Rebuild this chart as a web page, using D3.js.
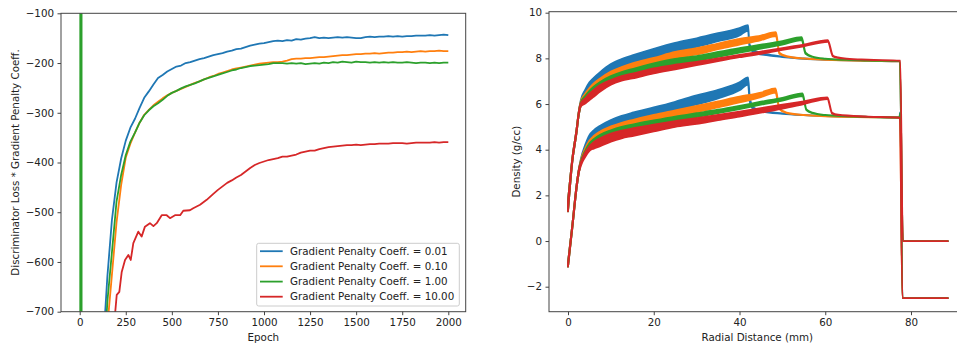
<!DOCTYPE html>
<html><head><meta charset="utf-8">
<script src="https://cdn.jsdelivr.net/npm/d3@7"></script>
<style>
body{margin:0;background:#fff;}
text{font-family:"DejaVu Sans",sans-serif;fill:#222;}
</style></head>
<body>
<svg id="chart" width="957" height="345"></svg>
<script>
// ---------------- LEFT CHART DATA ----------------
const epochs = [0,25,50,75,100,125,150,175,200,225,250,275,300,325,350,375,400,425,450,475,
500,525,550,575,600,625,650,675,700,725,750,775,800,825,850,875,900,925,950,975,
1000,1025,1050,1075,1100,1125,1150,1175,1200,1225,1250,1275,1300,1325,1350,1375,1400,1425,1450,1475,
1500,1525,1550,1575,1600,1625,1650,1675,1700,1725,1750,1775,1800,1825,1850,1875,1900,1925,1950,1975,2000];
const lossCoeff001 = [-3000,-2400,-1800,-1350,-1000,-780,-630,-515,-440,-392,
-356,-330,-312,-290,-270,-257,-243,-230,-224,-217,
-212,-207,-205,-200,-198,-195,-192,-190,-187,-184,
-182,-180,-177,-175,-172,-171,-168,-165,-163,-161,
-160,-158,-156,-155,-156,-154,-155,-152,-153,-151,
-150,-148,-150,-149,-150,-149,-148,-149,-148,-149,
-150,-150,-148,-147,-148,-147,-147,-146,-147,-146,
-147,-146,-146,-145,-145,-145,-144,-145,-144,-143,-144];
const lossCoeff010 = [-3500,-2800,-2100,-1600,-1200,-900,-730,-625,-520,-445,
-390,-362,-340,-320,-304,-294,-285,-278,-271,-265,
-260,-256,-252,-248,-244,-240,-237,-233,-229,-226,
-222,-219,-216,-213,-211,-209,-207,-205,-203,-201,
-200,-199,-198,-198,-197,-195,-192,-191,-191,-190,
-190,-189,-188,-188,-187,-186,-185,-184,-184,-183,
-182,-182,-181,-181,-180,-181,-180,-179,-179,-178,
-178,-177,-178,-177,-176,-177,-176,-176,-175,-176,-176];
// coeff 1.00: early spike points, then values on epochs[1..]
const spikeEpochs100 = [0,4,9,14];
const spikeValues100 = [-20000,6000,6000,-20000];
const lossCoeff100 = [-9000,-4000,-2000,-1200,-850,-680,-580,-478,-425,
-385,-358,-340,-320,-305,-295,-287,-281,-274,-266,
-260,-256,-251,-247,-244,-241,-237,-233,-230,-227,
-224,-221,-218,-215,-213,-210,-208,-206,-205,-204,
-203,-202,-200,-200,-200,-201,-200,-201,-200,-202,
-201,-200,-201,-199,-200,-198,-199,-197,-198,-199,
-197,-198,-198,-199,-198,-199,-198,-199,-198,-199,
-199,-198,-199,-200,-199,-199,-200,-199,-200,-199,-199];
// coeff 10.00 has its own (denser early) epochs
const epochs1000 = [0,50,100,150,175,193,201,215,228,246,264,277,291,318,336,354,381,400,418,445,472,490,517,545,562,598,616,653,689,
725,750,775,800,825,850,875,900,925,950,975,
1000,1025,1050,1075,1100,1125,1150,1175,1200,1225,1250,1275,1300,1325,1350,1375,1400,1425,1450,1475,
1500,1525,1550,1575,1600,1625,1650,1675,1700,1725,1750,1775,1800,1825,1850,1875,1900,1925,1950,1975,2000];
const lossCoeff1000 = [-5000,-3200,-1900,-1100,-850,-700,-666,-660,-620,-596,-586,-596,-562,-539,-549,-529,-522,-528,-522,-506,-506,-512,-506,-506,-497,-496,-492,-485,-475,
-463,-455,-448,-441,-436,-430,-425,-418,-411,-405,-401,
-398,-395,-393,-391,-388,-388,-386,-384,-380,-378,
-376,-376,-373,-371,-369,-368,-367,-366,-365,-365,
-364,-365,-364,-363,-363,-362,-362,-362,-361,-361,
-361,-362,-361,-360,-360,-360,-360,-359,-360,-359,-359];
const legendLabels = ["Gradient Penalty Coeff. = 0.01","Gradient Penalty Coeff. = 0.10","Gradient Penalty Coeff. = 1.00","Gradient Penalty Coeff. = 10.00"];
const colors = ["#1f77b4","#ff7f0e","#2ca02c","#d62728"];
const leftXTicks = [0,250,500,750,1000,1250,1500,1750,2000];
const leftYTicks = [-700,-600,-500,-400,-300,-200,-100];

// ---------------- RIGHT CHART DATA: [radial mm, low, high] ----------------
const stemUpper = [[0,1.3,1.75],[1,3.45,3.6],[2,4.75,4.9],[2.5,5.5,5.65]];
const stemLower = [[0,-1.12,-0.95],[1,0.55,0.7],[2,2.3,2.45],[2.5,2.95,3.1]];
const upper001 = [[3,5.95,6.18],[4,6.3,6.62],[5,6.55,6.95],[6,6.75,7.15],[7.5,6.98,7.4],[10,7.3,7.75],[12.5,7.55,7.97],[15,7.72,8.13],[20,8.02,8.42],[25,8.3,8.68],[30,8.5,8.88],[35,8.75,9.1],[40,9.0,9.33],[42,9.22,9.46],
[42.3,8.55,8.65],[42.8,8.35,8.45],[44,8.22,8.3],[47,8.12,8.16],[50,8.06,8.08],[55,7.98,8.0],[60,7.94,7.95],[65,7.91,7.92],[70,7.89,7.9],[77.4,7.87,7.88],[78.1,0,0],[88.6,0,0]];
const upper010 = [[3,5.95,6.12],[4,6.25,6.45],[5,6.48,6.7],[6,6.65,6.9],[7.5,6.87,7.12],[10,7.15,7.42],[12.5,7.35,7.62],[15,7.5,7.78],[20,7.75,8.02],[25,8.0,8.28],[30,8.17,8.45],[35,8.4,8.65],[40,8.6,8.85],[45,8.8,9.0],[48.5,8.98,9.15],
[49.3,8.2,8.25],[51,8.08,8.1],[55,7.99,8.0],[60,7.94,7.95],[70,7.89,7.9],[77.4,7.87,7.88],[78.1,0,0],[88.6,0,0]];
const upper100 = [[3,5.95,6.08],[4,6.2,6.35],[5,6.42,6.58],[6,6.6,6.76],[7.5,6.8,6.97],[10,7.05,7.22],[12.5,7.22,7.4],[15,7.35,7.53],[20,7.58,7.78],[25,7.75,7.98],[30,7.88,8.1],[35,8.07,8.28],[40,8.25,8.45],[45,8.43,8.6],[50,8.6,8.75],[54.5,8.8,8.93],
[55.4,8.2,8.25],[57,8.06,8.08],[60,7.98,7.99],[65,7.93,7.94],[70,7.9,7.9],[77.4,7.88,7.88],[78.1,0,0],[88.6,0,0]];
const upper1000 = [[3,5.9,6.04],[4,6.02,6.25],[5,6.18,6.45],[6,6.32,6.62],[7.5,6.55,6.83],[10,6.85,7.05],[12.5,7.02,7.22],[15,7.12,7.33],[20,7.34,7.56],[25,7.52,7.72],[30,7.7,7.85],[35,7.88,8.0],[40,8.05,8.15],[45,8.2,8.3],[50,8.37,8.45],[55,8.53,8.6],[60.6,8.72,8.8],
[61.8,8.08,8.12],[63,8.02,8.04],[65,7.98,7.99],[70,7.94,7.94],[77.5,7.89,7.9],[78.1,0,0],[88.6,0,0]];
const lower001 = [[3,3.4,3.6],[4,3.9,4.2],[5,4.25,4.64],[6,4.45,4.85],[7.5,4.68,5.05],[10,4.95,5.3],[12.5,5.1,5.48],[15,5.25,5.62],[20,5.5,5.85],[25,5.72,6.1],[30,5.98,6.38],[35,6.25,6.62],[40,6.6,6.95],[42,6.85,7.17],
[42.4,6.1,6.3],[43.2,5.78,5.85],[45,5.68,5.72],[50,5.57,5.59],[55,5.51,5.52],[60,5.47,5.48],[70,5.43,5.44],[77.3,5.41,5.42],[77.5,5.62,5.65],[78.0,-2.5,-2.5],[88.6,-2.5,-2.5]];
const lower010 = [[3,3.4,3.55],[4,3.85,4.05],[5,4.2,4.4],[6,4.38,4.6],[7.5,4.58,4.8],[10,4.8,5.02],[12.5,4.95,5.18],[15,5.07,5.3],[20,5.27,5.52],[25,5.45,5.72],[30,5.65,5.92],[35,5.85,6.12],[40,6.07,6.32],[45,6.3,6.5],[48.4,6.5,6.69],
[49.3,5.78,5.82],[51,5.6,5.62],[55,5.51,5.52],[60,5.46,5.47],[70,5.42,5.43],[77.4,5.4,5.41],[78.0,-2.5,-2.5],[88.6,-2.5,-2.5]];
const lower100 = [[3,3.4,3.5],[4,3.8,3.95],[5,4.1,4.28],[6,4.3,4.46],[7.5,4.48,4.65],[10,4.68,4.85],[12.5,4.82,5.0],[15,4.93,5.1],[20,5.1,5.28],[25,5.27,5.45],[30,5.43,5.6],[35,5.6,5.75],[40,5.78,5.92],[45,5.97,6.1],[50,6.15,6.27],[54.7,6.35,6.47],
[55.6,5.73,5.77],[57,5.6,5.62],[60,5.51,5.52],[65,5.46,5.47],[70,5.43,5.44],[77.3,5.41,5.41],[77.5,5.58,5.6],[78.0,-2.5,-2.5],[88.6,-2.5,-2.5]];
const lower1000 = [[3,3.3,3.45],[4,3.68,3.88],[5,3.95,4.15],[6,4.05,4.33],[7.5,4.15,4.5],[10,4.35,4.7],[12.5,4.5,4.83],[15,4.6,4.93],[20,4.8,5.1],[25,5.0,5.25],[30,5.13,5.38],[35,5.3,5.52],[40,5.45,5.67],[45,5.62,5.82],[50,5.8,5.97],[55,6.0,6.12],[60.5,6.22,6.29],
[61.6,5.58,5.62],[63,5.51,5.53],[70,5.44,5.45],[77.4,5.39,5.4],[78.0,-2.5,-2.5],[88.6,-2.5,-2.5]];
const rightXTicks = [0,20,40,60,80];
const rightYTicks = [-2,0,2,4,6,8,10];

// ---------------- DRAW ----------------
const svg = d3.select("#chart");
const FS = "10.3px";
const spine = "#444";

// LEFT
const L = {x0:61, x1:465.7, y0:13.3, y1:311.7};
const xL = d3.scaleLinear().domain([0,2000]).range([79.7,448.3]);
const yL = d3.scaleLinear().domain([-700,-100]).range([L.y1,L.y0]);
const defs = svg.append("defs");
defs.append("clipPath").attr("id","clipL").append("rect")
  .attr("x",L.x0).attr("y",L.y0).attr("width",L.x1-L.x0).attr("height",L.y1-L.y0);

const gL = svg.append("g");
const lineL = d3.line().x(d=>xL(d[0])).y(d=>yL(d[1]));
const seriesL = [
  epochs.map((e,i)=>[e,lossCoeff001[i]]),
  epochs.map((e,i)=>[e,lossCoeff010[i]]),
  spikeEpochs100.map((e,i)=>[e,spikeValues100[i]]).concat(epochs.slice(1).map((e,i)=>[e,lossCoeff100[i]])),
  epochs1000.map((e,i)=>[e,lossCoeff1000[i]])
];
gL.append("g").attr("clip-path","url(#clipL)").selectAll("path").data(seriesL).join("path")
  .attr("d",lineL).attr("fill","none").attr("stroke",(d,i)=>colors[i]).attr("stroke-width",1.8)
  .attr("stroke-linejoin","round");

function styleAxis(g){
  g.select(".domain").remove();
  g.selectAll("line").attr("stroke",spine);
  g.selectAll("text").style("font-size",FS).attr("fill","#222");
}
const axL = gL.append("g");
axL.append("g").attr("transform",`translate(0,${L.y1})`)
  .call(d3.axisBottom(xL).tickValues(leftXTicks).tickSize(3.5).tickPadding(3.5).tickFormat(d3.format("d")))
  .call(styleAxis);
axL.append("g").attr("transform",`translate(${L.x0},0)`)
  .call(d3.axisLeft(yL).tickValues(leftYTicks).tickSize(3.5).tickPadding(3.5))
  .call(styleAxis);
gL.append("rect").attr("x",L.x0).attr("y",L.y0).attr("width",L.x1-L.x0).attr("height",L.y1-L.y0)
  .attr("fill","none").attr("stroke",spine).attr("stroke-width",1);
gL.append("text").attr("x",(L.x0+L.x1)/2).attr("y",341).attr("text-anchor","middle").style("font-size",FS).text("Epoch");
gL.append("text").attr("transform",`translate(18.7,${(L.y0+L.y1)/2}) rotate(-90)`).attr("text-anchor","middle")
  .style("font-size",FS).text("Discriminator Loss * Gradient Penalty Coeff.");

// legend
const lg = gL.append("g");
lg.append("rect").attr("x",256.7).attr("y",243.3).attr("width",202.6).attr("height",62.7).attr("rx",2)
  .attr("fill","#fff").attr("fill-opacity",0.8).attr("stroke","#ccc").attr("stroke-width",1);
const legY = [251.2,266.3,281.6,296.7];
legendLabels.forEach((lab,i)=>{
  lg.append("line").attr("x1",260).attr("x2",282.7).attr("y1",legY[i]).attr("y2",legY[i])
    .attr("stroke",colors[i]).attr("stroke-width",1.8);
  lg.append("text").attr("x",290).attr("y",legY[i]).attr("dy","0.35em").style("font-size",FS).text(lab);
});

// RIGHT
const R = {x0:549, x1:966.7, y0:11.7, y1:311.7};
const xR = d3.scaleLinear().domain([0,80]).range([568,911]);
const yR = d3.scaleLinear().domain([-2,10]).range([286.7,12.7]);
defs.append("clipPath").attr("id","clipR").append("rect")
  .attr("x",R.x0).attr("y",R.y0).attr("width",R.x1-R.x0).attr("height",R.y1-R.y0);
const gR = svg.append("g");
const areaR = d3.area().x(d=>xR(d[0])).y0(d=>yR(d[1])).y1(d=>yR(d[2])).curve(d3.curveMonotoneX);
const seriesR = [
  [stemUpper.concat(upper001), stemLower.concat(lower001)],
  [stemUpper.concat(upper010), stemLower.concat(lower010)],
  [stemUpper.concat(upper100), stemLower.concat(lower100)],
  [stemUpper.concat(upper1000), stemLower.concat(lower1000)]
];
const plotR = gR.append("g").attr("clip-path","url(#clipR)");
seriesR.forEach((pair,i)=>{
  plotR.selectAll(null).data(pair).join("path")
    .attr("d",areaR).attr("fill",colors[i]).attr("stroke",colors[i]).attr("stroke-width",1.8)
    .attr("stroke-linejoin","round");
});
const axR = gR.append("g");
axR.append("g").attr("transform",`translate(0,${R.y1})`)
  .call(d3.axisBottom(xR).tickValues(rightXTicks).tickSize(3.5).tickPadding(3.5))
  .call(styleAxis);
axR.append("g").attr("transform",`translate(${R.x0},0)`)
  .call(d3.axisLeft(yR).tickValues(rightYTicks).tickSize(3.5).tickPadding(3.5))
  .call(styleAxis);
gR.append("rect").attr("x",R.x0).attr("y",R.y0).attr("width",R.x1-R.x0).attr("height",R.y1-R.y0)
  .attr("fill","none").attr("stroke",spine).attr("stroke-width",1);
gR.append("text").attr("x",757.3).attr("y",341).attr("text-anchor","middle").style("font-size",FS).text("Radial Distance (mm)");
gR.append("text").attr("transform",`translate(519.5,${(R.y0+R.y1)/2}) rotate(-90)`).attr("text-anchor","middle")
  .style("font-size",FS).text("Density (g/cc)");
</script>
</body></html>
